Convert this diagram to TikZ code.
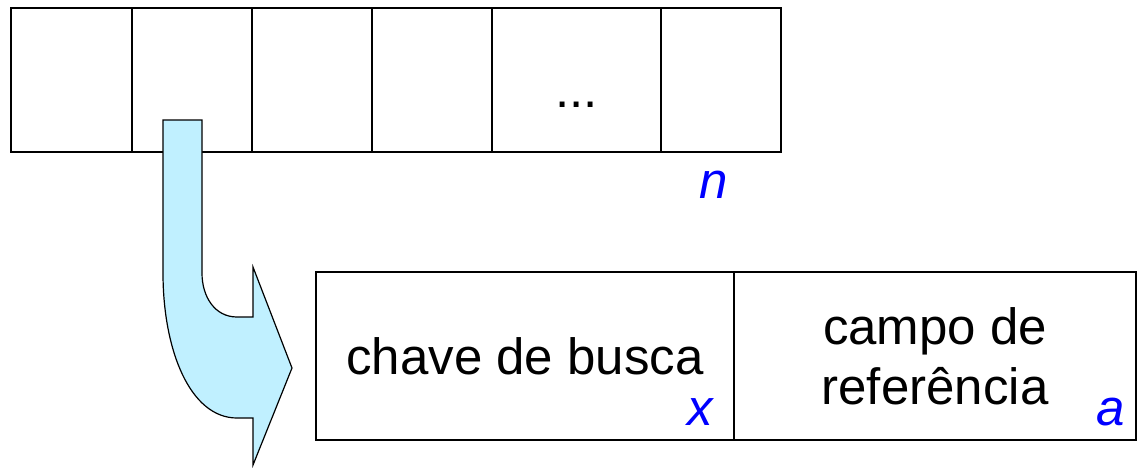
\documentclass[tikz,border=0pt]{standalone}
\usepackage{fontspec}
\setmainfont{Liberation Sans}
\usetikzlibrary{positioning}
\definecolor{arrowfill}{RGB}{192,240,255}
\newcommand{\bigfont}{\fontsize{51}{60}\selectfont}
\tikzstyle{cell} = [rectangle, draw=black, line width=1.5pt, minimum height=144pt, inner sep=0pt]
\tikzstyle{field} = [rectangle, draw=black, line width=1.5pt, minimum height=168pt, inner sep=0pt, align=center]
\tikzstyle{var} = [text=blue, font=\bigfont\itshape, inner sep=0pt, anchor=base east]
\tikzstyle{bigarrow} = [draw=black, line width=1.2pt, fill=arrowfill]

\begin{document}
\begin{tikzpicture}[x=1pt, y=-1pt, font=\bigfont]
  \useasboundingbox (0,0) rectangle (1138,467);
  % vetor de entradas
  \node (c1) [cell, minimum width=121pt] at (71.5, 80) {};
  \node (c2) [cell, minimum width=120pt] at (192, 80) {};
  \node (c3) [cell, minimum width=120pt] at (312, 80) {};
  \node (c4) [cell, minimum width=120pt] at (432, 80) {};
  \node (c5) [cell, minimum width=169pt] at (576.5, 80) {};
  \node (c6) [cell, minimum width=120pt] at (721, 80) {};
  \node (dots) [anchor=base, inner sep=0pt] at (576.5, 107) {...};
  \node (n) [var] at (728, 198) {n};

  % entrada expandida
  \node (key) [field, minimum width=418pt] at (525, 356) {chave de busca};
  \node (ref) [field, minimum width=402pt] at (935, 356) {campo de\\referência};
  \node (x) [var] at (713, 425) {x};
  \node (a) [var] at (1125, 425) {a};

  % seta
  \draw [bigarrow] (163,120) -- (202,120) -- (202,273)
    .. controls (202,297) and (215,317) .. (237,317) -- (253,317) -- (253,267)
    -- (292,368) -- (253,465) -- (253,418) -- (237,418)
    .. controls (190,418) and (163,350) .. (163,273) -- cycle;
\end{tikzpicture}
\end{document}
